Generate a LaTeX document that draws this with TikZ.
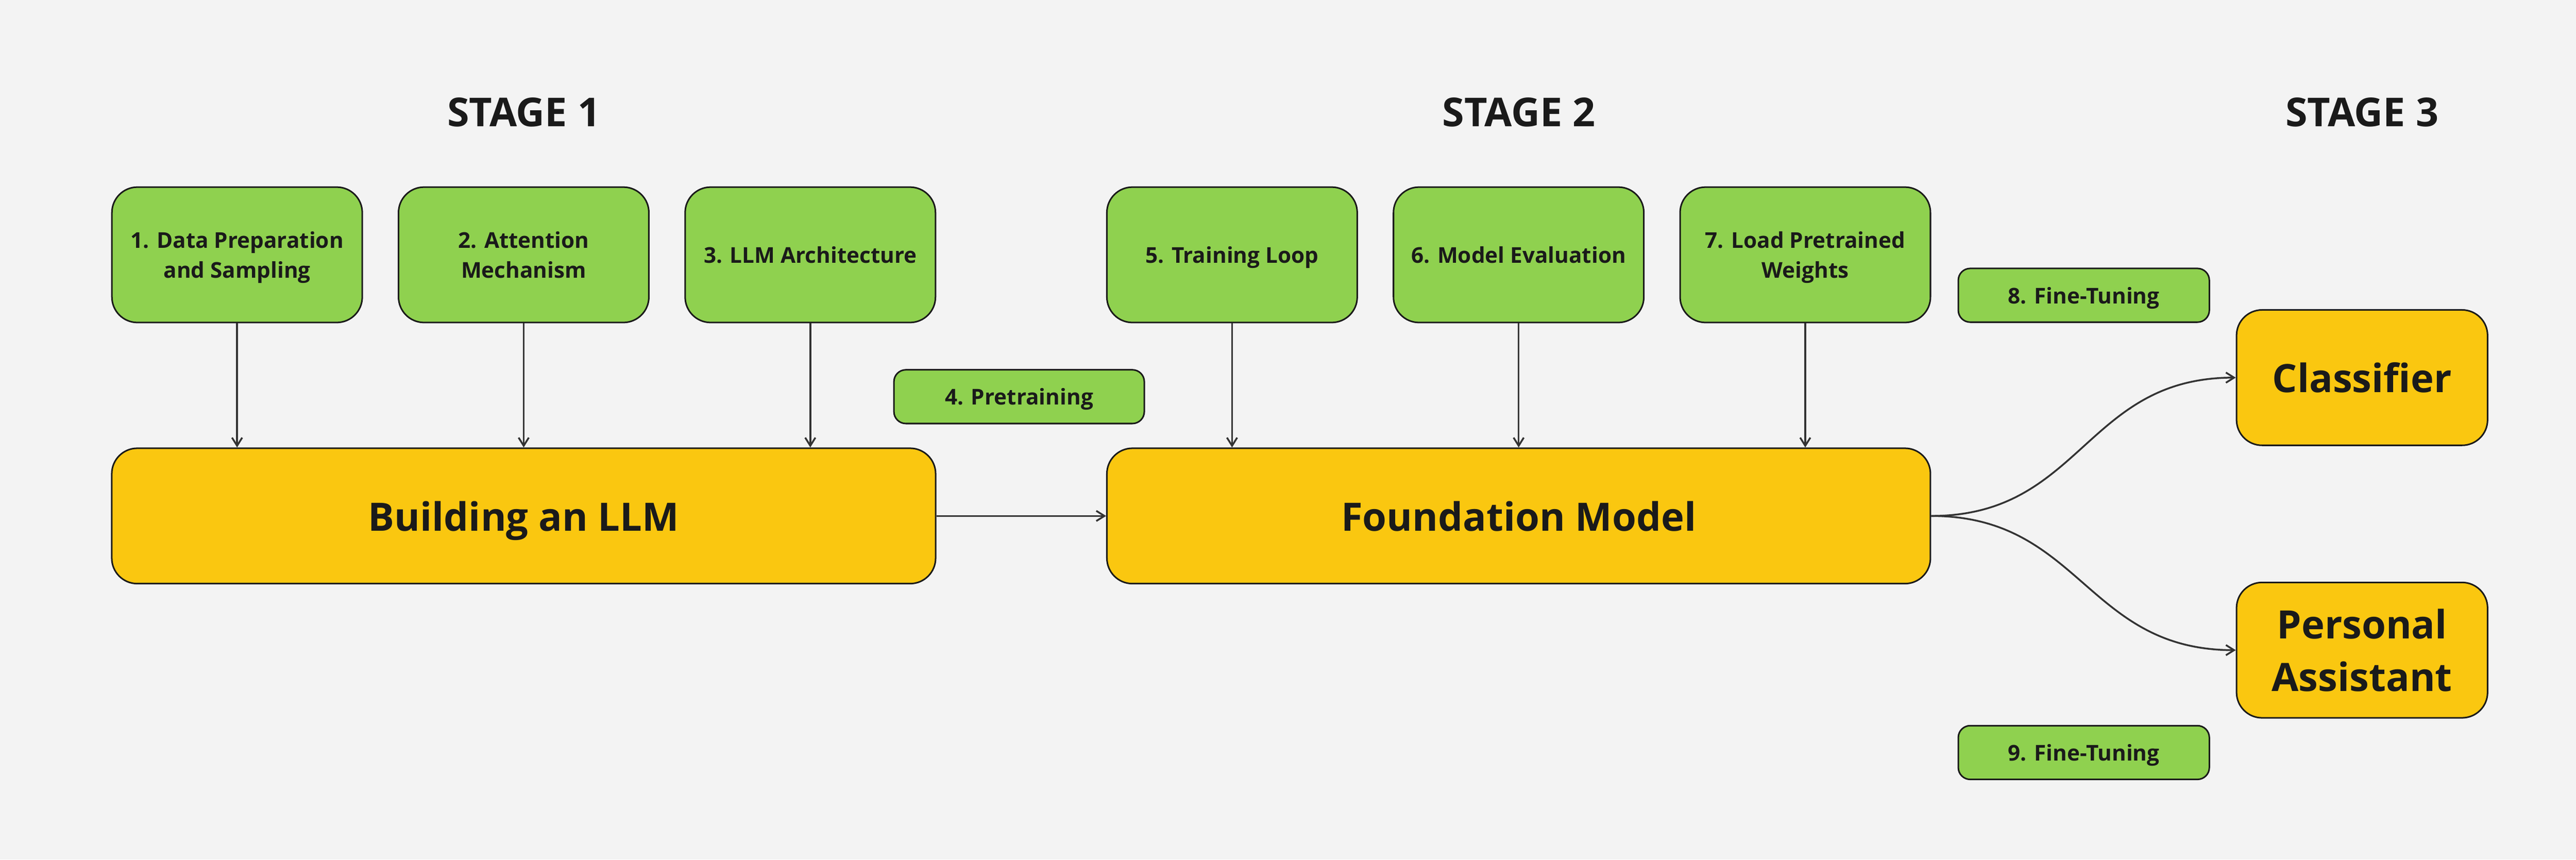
\documentclass[tikz,border=0pt]{standalone}
\usepackage{fontspec}
\setmainfont{Open Sans}
\usetikzlibrary{arrows.meta,chains,positioning}

\definecolor{bggray}{HTML}{F3F3F3}
\definecolor{stepgreen}{HTML}{8FD14F}
\definecolor{modelyellow}{HTML}{FAC710}
\definecolor{inkdark}{HTML}{1A1A1A}
\definecolor{wiregray}{HTML}{333333}

\begin{document}
\begin{tikzpicture}[
  every node/.style={text=inkdark,font=\bfseries},
  stepbox/.style={draw=inkdark,line width=1.3pt,fill=stepgreen,rounded corners=0.75cm,
    minimum width=7.36cm,minimum height=3.98cm,align=center,text depth=0pt,
    font=\fontsize{18.2}{24.8}\selectfont\bfseries},
  tagbox/.style={stepbox,rounded corners=0.35cm,minimum height=1.58cm},
  modelbox/.style={draw=inkdark,line width=1.3pt,fill=modelyellow,rounded corners=0.75cm,
    minimum height=3.98cm,align=center,text depth=0pt,
    font=\fontsize{32.7}{44.1}\selectfont\bfseries},
  stagetitle/.style={font=\fontsize{33.3}{40}\selectfont\bfseries},
  arr/.style={draw=wiregray,line width=1.5pt,-{Straight Barb[length=2.4mm,width=3mm]}}
]

\fill [bggray] (0,0) rectangle (75.73,-25.27);

\node [stagetitle] (s1) at (15.40,-3.30) {STAGE 1};
\node [stagetitle] (s2) at (44.65,-3.30) {STAGE 2};
\node [stagetitle] (s3) at (69.44,-3.30) {STAGE 3};

\begin{scope}[shift={(6.97,-7.49)},start chain=going right,node distance=1.02cm]
\def\buildsteps{1/{1. Data Preparation\\and Sampling},2/{2. Attention\\Mechanism},3/{3. LLM Architecture}}
\foreach \i / \element in \buildsteps
  \node [on chain,stepbox] (b\i) {\element};
\end{scope}

\begin{scope}[shift={(36.22,-7.49)},start chain=going right,node distance=1.02cm]
\def\trainsteps{5/{5. Training Loop},6/{6. Model Evaluation},7/{7. Load Pretrained\\Weights}}
\foreach \i / \element in \trainsteps
  \node [on chain,stepbox] (t\i) {\element};
\end{scope}

\node [modelbox,minimum width=24.22cm,below=3.65cm of b2] (build) {Building an LLM};
\node [modelbox,minimum width=24.21cm,below=3.65cm of t6] (found) {Foundation Model};

\node [tagbox] (pre) at (29.96,-11.66) {4. Pretraining};
\node [tagbox,minimum width=7.38cm] (tune8) at (61.26,-8.68) {8. Fine-Tuning};
\node [tagbox,minimum width=7.38cm] (tune9) at (61.26,-22.12) {9. Fine-Tuning};

\node [modelbox,minimum width=7.38cm] (clf) at (69.44,-11.10) {Classifier};
\node [modelbox,minimum width=7.38cm] (assist) at (69.44,-19.11) {Personal\\Assistant};

\draw [arr] (b1.south) -- (b1.south |- build.north);
\draw [arr] (b2.south) -- (b2.south |- build.north);
\draw [arr] (b3.south) -- (b3.south |- build.north);

\draw [arr] (t5.south) -- (t5.south |- found.north);
\draw [arr] (t6.south) -- (t6.south |- found.north);
\draw [arr] (t7.south) -- (t7.south |- found.north);

\draw [arr] (build.east) -- (found.west);
\draw [arr] (found.east) to[out=0,in=180,looseness=1.15] (clf.west);
\draw [arr] (found.east) to[out=0,in=180,looseness=1.15] (assist.west);

\end{tikzpicture}
\end{document}
